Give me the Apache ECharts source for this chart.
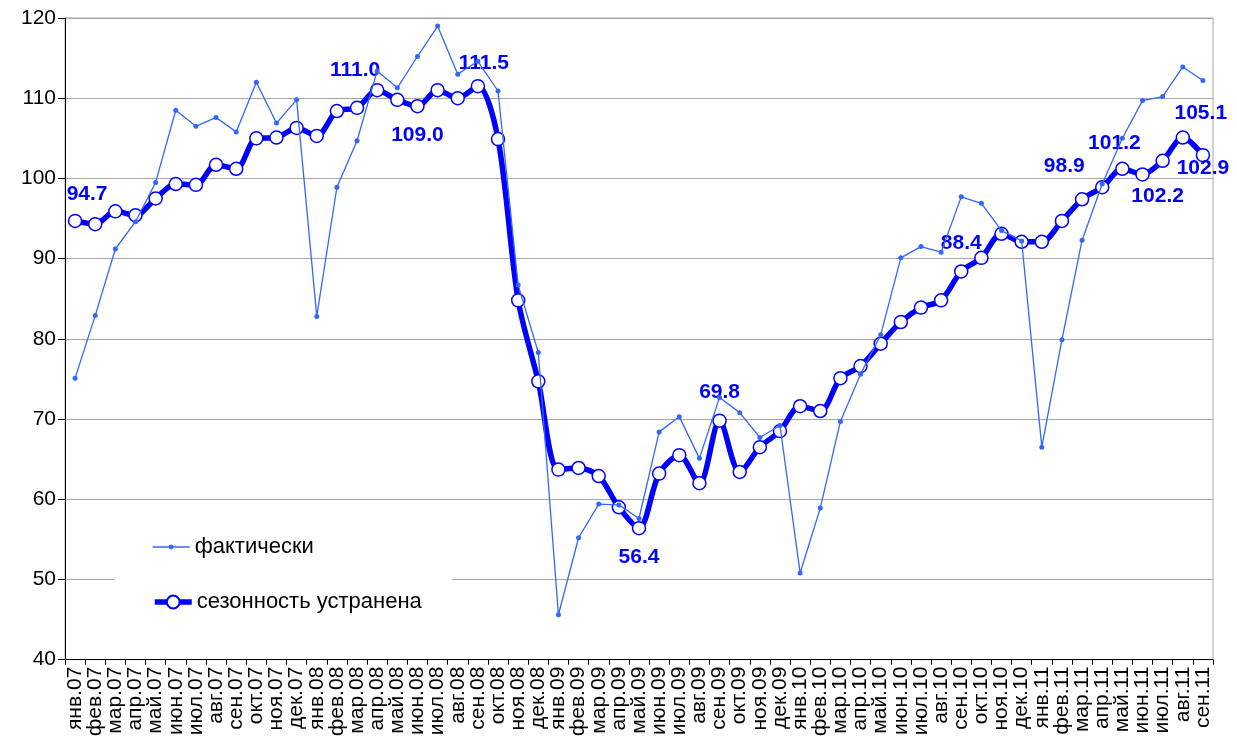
<!DOCTYPE html>
<html>
<head>
<meta charset="utf-8">
<script src="https://cdn.jsdelivr.net/npm/echarts@6/dist/echarts.min.js"></script>
<style>
html,body{margin:0;padding:0;background:#fff;}
#chart{width:1237px;height:739px;}
</style>
</head>
<body>
<div id="chart"></div>
<script>
const categories = ['янв.07','фев.07','мар.07','апр.07','май.07','июн.07','июл.07','авг.07','сен.07','окт.07','ноя.07','дек.07',
  'янв.08','фев.08','мар.08','апр.08','май.08','июн.08','июл.08','авг.08','сен.08','окт.08','ноя.08','дек.08',
  'янв.09','фев.09','мар.09','апр.09','май.09','июн.09','июл.09','авг.09','сен.09','окт.09','ноя.09','дек.09',
  'янв.10','фев.10','мар.10','апр.10','май.10','июн.10','июл.10','авг.10','сен.10','окт.10','ноя.10','дек.10',
  'янв.11','фев.11','мар.11','апр.11','май.11','июн.11','июл.11','авг.11','сен.11'];

const actual = [75.1, 82.9, 91.2, 94.6, 99.5, 108.5, 106.5, 107.6, 105.8, 112.0, 106.9, 109.8,
  82.8, 98.9, 104.7, 113.4, 111.3, 115.2, 119.0, 113.0, 114.6, 110.9, 86.7, 78.3,
  45.6, 55.2, 59.4, 59.3, 57.6, 68.4, 70.3, 65.1, 72.7, 70.8, 67.7, 69.2,
  50.8, 58.9, 69.7, 75.6, 80.5, 90.1, 91.5, 90.8, 97.7, 96.9, 93.5, 92.2,
  66.5, 79.9, 92.3, 99.3, 105.0, 109.7, 110.2, 113.9, 112.2];

const seasonAdj = [94.7, 94.3, 95.9, 95.4, 97.5, 99.3, 99.2, 101.7, 101.2, 105.0, 105.1, 106.3,
  105.3, 108.4, 108.8, 111.0, 109.8, 109.0, 111.0, 110.0, 111.5, 104.9, 84.8, 74.7,
  63.7, 63.9, 62.9, 59.0, 56.4, 63.2, 65.5, 62.0, 69.8, 63.4, 66.5, 68.5,
  71.6, 71.0, 75.1, 76.6, 79.4, 82.1, 83.9, 84.8, 88.4, 90.1, 93.1, 92.1,
  92.1, 94.7, 97.4, 98.9, 101.2, 100.5, 102.2, 105.1, 102.9];

const seriesNames = ['фактически', 'сезонность устранена'];

// indices of the labelled seasonally-adjusted points and label offsets (px)
const labelOffsets = {0:[12,-27], 15:[-22,-20], 17:[0,29], 20:[6,-23], 28:[0,29], 32:[0,-28],
  44:[0,-28], 51:[-38,-21], 52:[-8,-26], 54:[-5,35], 55:[18,-24], 56:[0,13]};

const font = '"Liberation Sans", Arial, sans-serif';
const labelStyle = {color: '#0000ff', fontWeight: 'bold', fontSize: 21, fontFamily: font};

const saData = seasonAdj.map(function (v, i) {
  if (labelOffsets[i]) {
    return {value: v, label: Object.assign({show: true, position: 'inside', offset: labelOffsets[i],
      formatter: function (p) { return p.value.toFixed(1); }}, labelStyle)};
  }
  return v;
});

const chart = echarts.init(document.getElementById('chart'), null, {renderer: 'canvas'});
chart.setOption({
  animation: false,
  backgroundColor: '#fff',
  grid: {left: 65, right: 24, top: 18, bottom: 77, show: true, borderColor: '#a6a6a6', borderWidth: 1},
  graphic: [{
    type: 'rect', left: 115, top: 512, z: 3,
    shape: {width: 337, height: 124},
    style: {fill: '#ffffff'}
  }],
  legend: [
    {
      left: 152, top: 536, padding: 0,
      data: [{name: seriesNames[0], lineStyle: {width: 1.3, color: '#3366ff'}}],
      itemWidth: 37, itemHeight: 6,
      textStyle: {fontSize: 22, color: '#000', fontFamily: font}
    },
    {
      left: 152, top: 591, padding: 0,
      data: [{name: seriesNames[1], lineStyle: {width: 5.5, color: '#0000ff'}}],
      itemWidth: 37, itemHeight: 16,
      textStyle: {fontSize: 22, color: '#000', fontFamily: font}
    }
  ],
  xAxis: {
    type: 'category', data: categories, boundaryGap: true,
    axisLine: {lineStyle: {color: '#000', width: 1}},
    axisTick: {show: true, length: 5, interval: 0, lineStyle: {color: '#000'}},
    axisLabel: {interval: 0, rotate: 90, fontSize: 21, color: '#000', fontFamily: font, margin: 7}
  },
  yAxis: {
    type: 'value', min: 40, max: 120, interval: 10,
    axisLine: {show: true, lineStyle: {color: '#000', width: 1}},
    axisTick: {show: true, length: 7, lineStyle: {color: '#000'}},
    axisLabel: {fontSize: 21, color: '#000', fontFamily: font, margin: 9},
    splitLine: {lineStyle: {color: '#a6a6a6', width: 1}}
  },
  series: [
    {
      name: seriesNames[1], type: 'line', data: saData, smooth: 0.3,
      symbol: 'circle', symbolSize: 13,
      lineStyle: {color: '#0000ff', width: 5.5},
      itemStyle: {color: '#ffffff', borderColor: '#0000ff', borderWidth: 1.5},
      z: 2
    },
    {
      name: seriesNames[0], type: 'line', data: actual,
      symbol: 'circle', symbolSize: 5,
      lineStyle: {color: '#3366ff', width: 1.3},
      itemStyle: {color: '#3366ff'},
      z: 3
    }
  ]
});
</script>
</body>
</html>
